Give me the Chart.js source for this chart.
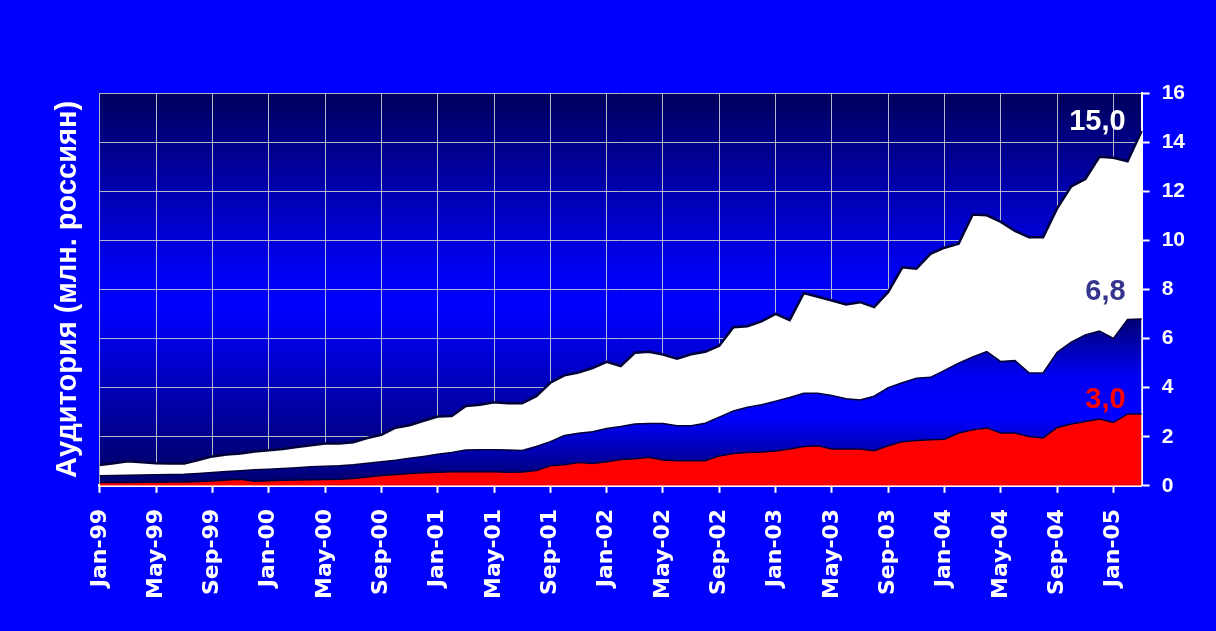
<!DOCTYPE html>
<html>
<head>
<meta charset="utf-8">
<script src="https://cdn.jsdelivr.net/npm/chart.js@4/dist/chart.umd.min.js"></script>
<style>
  html, body { margin: 0; padding: 0; background: #0000ff; }
</style>
</head>
<body>
<canvas id="audienceChart" width="1216" height="631"></canvas>
<script>
/* ===== DATA ===== */

const monthNames = ["Jan","Feb","Mar","Apr","May","Jun","Jul","Aug","Sep","Oct","Nov","Dec"];
const years = ["99","00","01","02","03","04","05"];
const labels = [];
years.forEach(y => monthNames.forEach(m => { if (labels.length < 75) labels.push(m + "-" + y); }));

// top of white area = whole audience, mln
const total = [
  0.85,0.92,1.0,0.96,0.92,0.91,0.91,1.05,
  1.2,1.28,1.32,1.4,1.45,1.5,1.58,1.65,
  1.72,1.72,1.78,1.95,2.08,2.37,2.47,2.65,
  2.82,2.84,3.25,3.3,3.4,3.36,3.36,3.65,
  4.2,4.5,4.62,4.8,5.05,4.88,5.42,5.46,
  5.35,5.18,5.36,5.46,5.71,6.46,6.5,6.7,
  7.0,6.75,7.85,7.7,7.55,7.39,7.48,7.28,
  7.9,8.9,8.84,9.45,9.7,9.86,11.05,11.02,
  10.75,10.38,10.13,10.13,11.3,12.2,12.5,13.4,
  13.36,13.22,14.45
];

// top of blue area
const middle = [
  0.41,0.42,0.43,0.44,0.45,0.46,0.47,0.5,
  0.54,0.58,0.62,0.66,0.68,0.71,0.74,0.78,
  0.8,0.82,0.86,0.92,0.98,1.04,1.12,1.2,
  1.29,1.36,1.46,1.47,1.47,1.46,1.44,1.6,
  1.8,2.05,2.14,2.2,2.34,2.42,2.52,2.54,
  2.54,2.45,2.45,2.55,2.8,3.05,3.2,3.3,
  3.45,3.6,3.77,3.77,3.68,3.55,3.5,3.65,
  4.0,4.2,4.38,4.42,4.7,5.0,5.25,5.47,
  5.06,5.1,4.6,4.6,5.44,5.85,6.15,6.3,
  6.0,6.78,6.8
];

// red area
const core = [
  0.14,0.14,0.14,0.15,0.15,0.16,0.16,0.18,
  0.2,0.24,0.27,0.19,0.21,0.23,0.24,0.25,
  0.26,0.27,0.3,0.36,0.42,0.46,0.5,0.53,
  0.55,0.57,0.57,0.57,0.57,0.55,0.56,0.62,
  0.82,0.86,0.95,0.91,0.98,1.07,1.1,1.16,
  1.05,1.02,1.02,1.02,1.22,1.32,1.36,1.38,
  1.42,1.5,1.6,1.63,1.5,1.5,1.5,1.43,
  1.63,1.8,1.85,1.88,1.9,2.15,2.28,2.36,
  2.15,2.15,2.01,1.95,2.38,2.52,2.62,2.72,
  2.58,2.93,2.93
];

const notes = [
  {text:"15,0", value:14.8, color:"#ffffff"},
  {text:"6,8",  value:7.9,  color:"#35358f"},
  {text:"3,0",  value:3.5,  color:"#ff0000"}
];

/* ===== STYLE ===== */
const FONT = '"Liberation Sans", Arial, sans-serif';
const gridGray = "rgba(200,200,210,0.9)";
const edge = "#000038";
Chart.defaults.font.family = FONT;

function blueFill(ctx) {
  const chart = ctx.chart;
  if (!chart.chartArea) return "#0000ff";
  const y = chart.scales.y;
  const g = chart.ctx.createLinearGradient(0, y.getPixelForValue(7), 0, y.getPixelForValue(0));
  g.addColorStop(0, "#000068");
  g.addColorStop(0.35, "#0000f0");
  g.addColorStop(0.6, "#0000ff");
  g.addColorStop(1, "#000062");
  return g;
}

const plotBackground = {
  id: "plotBackground",
  beforeDraw(chart) {
    const {ctx, chartArea: a} = chart;
    const g = ctx.createLinearGradient(0, a.top, 0, a.bottom);
    g.addColorStop(0, "#00005c");
    g.addColorStop(0.45, "#0000f2");
    g.addColorStop(0.55, "#0000ff");
    g.addColorStop(1, "#00005e");
    ctx.save();
    ctx.fillStyle = g;
    ctx.fillRect(a.left, a.top, a.right - a.left, a.bottom - a.top);
    ctx.restore();
  }
};

const endNotes = {
  id: "endNotes",
  afterDatasetsDraw(chart) {
    const {ctx, scales: {x, y}} = chart;
    const right = x.getPixelForValue(labels.length - 1) - 16;
    ctx.save();
    ctx.font = "bold 29px " + FONT;
    ctx.textAlign = "right";
    ctx.textBaseline = "middle";
    notes.forEach(n => {
      ctx.fillStyle = n.color;
      ctx.fillText(n.text, right, y.getPixelForValue(n.value));
    });
    ctx.restore();
  }
};

/* ===== CHART ===== */
new Chart(document.getElementById("audienceChart"), {
  type: "line",
  data: {
    labels: labels,
    datasets: [
      {data: core, fill: "origin", backgroundColor: "#ff0000", borderColor: edge, borderWidth: 1.5},
      {data: middle, fill: "-1", backgroundColor: blueFill, borderColor: edge, borderWidth: 1.5},
      {data: total, fill: "-1", backgroundColor: "#ffffff", borderColor: edge, borderWidth: 2.5}
    ]
  },
  options: {
    responsive: false,
    animation: false,
    layout: {padding: {left: 20, right: 19, top: 93, bottom: 16}},
    elements: {point: {radius: 0}, line: {tension: 0}},
    plugins: {legend: {display: false}, tooltip: {enabled: false}},
    scales: {
      x: {
        offset: false,
        grid: {
          color: c => c.index % 4 === 0 ? gridGray : "rgba(0,0,0,0)",
          tickColor: c => c.index % 4 === 0 ? "#ffffff" : "rgba(0,0,0,0)",
          tickLength: 7,
          tickWidth: 2,
          lineWidth: 1
        },
        border: {color: "#ffffff", width: 3},
        ticks: {
          autoSkip: false,
          minRotation: 90,
          maxRotation: 90,
          padding: 16,
          color: "#ffffff",
          font: {family: '"DejaVu Sans", sans-serif', size: 22, weight: "bold"},
          callback: (v, i) => i % 4 === 0 ? labels[i] : ""
        }
      },
      y: {
        position: "right",
        min: 0,
        max: 16,
        grid: {color: gridGray, tickColor: "#ffffff", tickLength: 8, tickWidth: 2, lineWidth: 1},
        border: {color: "#ffffff", width: 2},
        ticks: {stepSize: 2, padding: 12, color: "#ffffff", font: {size: 21, weight: "bold"}}
      },
      yTitle: {
        type: "linear",
        position: "left",
        min: 0,
        max: 16,
        grid: {display: false, drawTicks: false},
        border: {display: false},
        ticks: {display: false},
        title: {
          display: true,
          text: "Аудитория (млн. россиян)",
          color: "#ffffff",
          font: {size: 29, weight: "bold"},
          padding: {top: 31, bottom: 14}
        }
      }
    }
  },
  plugins: [plotBackground, endNotes]
});
</script>
</body>
</html>
